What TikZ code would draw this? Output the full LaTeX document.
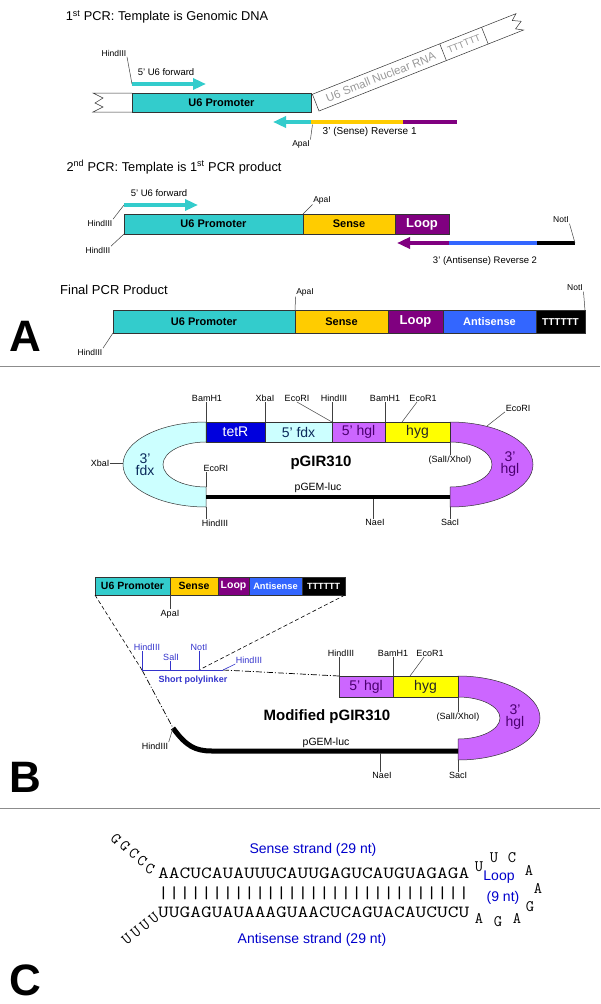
\documentclass[tikz,border=0pt]{standalone}
\usepackage{fontspec}
\setmainfont{Liberation Sans}
\usetikzlibrary{arrows.meta,calc}
\newcommand\myfs[1]{\fontsize{#1}{#1}\selectfont}
\definecolor{teal6}{HTML}{33CCCC}
\definecolor{gold}{HTML}{FFCC00}
\definecolor{loopc}{HTML}{800080}
\definecolor{antis}{HTML}{3366FF}
\definecolor{tetrc}{HTML}{0000DD}
\definecolor{lcyan}{HTML}{CCFFFF}
\definecolor{viol}{HTML}{CC66FF}
\definecolor{yel}{HTML}{FFFF00}
\definecolor{dpur}{HTML}{4B0070}
\definecolor{navy}{HTML}{0B2A5B}
\definecolor{plblue}{HTML}{3333CC}
\definecolor{cblue}{HTML}{0000CC}
\definecolor{edge}{HTML}{333333}
\begin{document}
\begin{tikzpicture}[x=1pt,y=-1pt,
  bx/.style={draw=edge, line width=0.5pt, anchor=north west, inner sep=0pt, outer sep=0pt},
  seg/.style={draw=edge, line width=0.5pt},
  bt/.style={font=\bfseries\myfs{11}},
  wt/.style={font=\myfs{14}},
  lb/.style={font=\myfs{8.5}, inner sep=0.5pt},
  lbb/.style={font=\myfs{9}, inner sep=0.5pt},
  tk/.style={draw=black!75, line width=0.5pt},
  big/.style={font=\bfseries\myfs{44}, inner sep=0pt},
  plab/.style={text=plblue, font=\myfs{9}, inner sep=0.5pt},
  farrow/.style={line width=4.5pt, -{Triangle[length=13pt,width=11pt]}},
  bar/.style={line width=4.5pt},
  mono/.style={font=\ttfamily\myfs{17}, inner sep=0pt, xscale=1.225},
  monos/.style={font=\ttfamily\myfs{16}, inner sep=0pt},
  cbl/.style={text=cblue, font=\myfs{14}, inner sep=0pt},
  sepline/.style={draw=black!45, line width=0.8pt},
  bbone/.style={line width=4.5pt},
]
\useasboundingbox (0,0) rectangle (600,1004);
\fill[white] (0,0) rectangle (600,1004);

% ================= PANEL A =================
\node[font=\myfs{12.8}] (t1) at (167,17) {1\textsuperscript{st} PCR: Template is Genomic DNA};
\draw[seg, fill=white] (132,93) -- (93,93) -- (103,98) -- (95,103) -- (103,107) -- (93,112) -- (132,112);
\node[bx, fill=teal6, minimum width=179pt, minimum height=19pt, bt] (p1u6) at (132,93) {U6 Promoter};
\begin{scope}[shift={(319,111)}, rotate=21.6]
 \draw[seg, fill=white] (0,0) -- (220,0) -- (213,-4) -- (221,-9) -- (213,-13) -- (219,-18) -- (0,-18) -- cycle;
 \draw[seg] (137,0) -- (137,-18);
 \draw[seg] (182,0) -- (182,-18);
 \node[rotate=21.6, text=black!40, font=\myfs{11.5}] (snrna) at (70,-9) {U6 Small Nuclear RNA};
 \node[rotate=21.6, text=black!40, font=\myfs{9.5}] (tt1) at (159.5,-9) {TTTTTT};
\end{scope}
\coordinate (f1s) at (132,84); \coordinate (f1e) at (206,84);
\draw[farrow, teal6] (f1s) -- (f1e);
\node[lb, font=\myfs{9.5}] (f1l) at (166,72) {5' U6 forward};
\node[lb] (h1) at (114,53) {HindIII};
\draw[tk] (h1.south east) -- (f1s);
\coordinate (r1t) at (273,122); \coordinate (r1a) at (311,122);
\coordinate (r1b) at (403,122); \coordinate (r1c) at (457,122);
\draw[bar, gold] (r1a) -- (r1b);
\draw[bar, loopc] (r1b) -- (r1c);
\draw[farrow, teal6] (r1a) -- (r1t);
\node[lb, font=\myfs{10}, anchor=west] (r1l) at (322,132) {3' (Sense) Reverse 1};
\node[lb] (a1) at (301,144) {ApaI};
\coordinate (a1t) at (312.5,124.5);
\draw[tk] (a1.north east) -- (a1t);

\node[font=\myfs{12.8}] (t2) at (174,167) {2\textsuperscript{nd} PCR: Template is 1\textsuperscript{st} PCR product};
\coordinate (f2s) at (124,205); \coordinate (f2e) at (198,205);
\draw[farrow, teal6] (f2s) -- (f2e);
\node[lb, font=\myfs{9.5}] (f2l) at (159,193) {5' U6 forward};
\node[bx, fill=teal6, minimum width=179pt, minimum height=20pt, bt] (p2u6) at (124,214) {U6 Promoter};
\node[bx, fill=gold, minimum width=92pt, minimum height=20pt, bt] (p2s) at (p2u6.north east) {Sense};
\node[bx, fill=loopc, minimum width=54pt, minimum height=20pt, text=white, font=\bfseries\myfs{13}] (p2l) at (p2s.north east) {Loop};
\node[lb] (h2a) at (100,223) {HindIII};
\draw[tk] (h2a.north east) -- (f2s);
\node[lb] (h2b) at (98,250) {HindIII};
\draw[tk] (h2b.north east) -- (p2u6.south west);
\node[lb] (a2) at (322,200) {ApaI};
\draw[tk] (a2.south west) -- (p2s.north west);
\coordinate (r2t) at (397,243); \coordinate (r2a) at (449,243);
\coordinate (r2b) at (537,243); \coordinate (r2c) at (575,243);
\draw[bar, antis] (r2a) -- (r2b);
\draw[bar, black] (r2b) -- (r2c);
\draw[farrow, loopc] (r2a) -- (r2t);
\node[lb, font=\myfs{9.5}] (r2l) at (485,261) {3' (Antisense) Reverse 2};
\node[lb] (n2) at (561,220) {NotI};
\draw[tk] (n2.south east) -- (r2c);

\node[font=\myfs{13}] (t3) at (114,290) {Final PCR Product};
\node[bx, fill=teal6, minimum width=182pt, minimum height=22.5pt, bt] (fu6) at (113,310.5) {U6 Promoter};
\node[bx, fill=gold, minimum width=93pt, minimum height=22.5pt, bt] (fs) at (fu6.north east) {Sense};
\node[bx, fill=loopc, minimum width=55pt, minimum height=22.5pt, text=white, font=\bfseries\myfs{13}] (fl) at (fs.north east) {Loop};
\node[bx, fill=antis, minimum width=93pt, minimum height=22.5pt, bt, text=white] (fa) at (fl.north east) {Antisense};
\node[bx, fill=black, minimum width=49pt, minimum height=22.5pt, text=white, font=\bfseries\myfs{10}] (ft) at (fa.north east) {TTTTTT};
\node[lb] (a3) at (305,292) {ApaI};
\draw[tk] (fs.north west) -- (a3.south west);
\node[lb] (n3) at (575,288) {NotI};
\draw[tk] (ft.north east) -- (n3.south east);
\node[lb] (h3) at (90,352) {HindIII};
\draw[tk] (fu6.south west) -- (h3.north east);
\node[big] (la) at (25,336) {A};

\draw[sepline] (0,366) -- (600,366);

% ================= PANEL B (top) =================
\draw[seg, fill=lcyan] (206,422) arc[start angle=270, end angle=90, x radius=83, y radius=42.5]
  -- (206,487) arc[start angle=90, end angle=270, x radius=43, y radius=22.5] -- cycle;
\draw[seg, fill=viol] (450,422) arc[start angle=-90, end angle=90, x radius=83, y radius=42.5]
  -- (450,487) arc[start angle=90, end angle=-90, x radius=42, y radius=22.5] -- cycle;
\node[bx, fill=tetrc, minimum width=59pt, minimum height=20pt, wt, text=white] (tetR) at (206,422) {tetR};
\node[bx, fill=lcyan, minimum width=67pt, minimum height=20pt, wt, text=navy] (fdx5) at (tetR.north east) {5' fdx};
\node[bx, fill=viol, minimum width=53pt, minimum height=20pt, wt, text=dpur] (hgl5) at (fdx5.north east) {5' hgl};
\node[bx, fill=yel, minimum width=65pt, minimum height=20pt, wt, text=black!85] (hyg1) at (hgl5.north east) {hyg};
\coordinate (bbL) at (206,497); \coordinate (bbR) at (450,497);
\draw[bbone] (bbL) -- (bbR);
\node[align=center, font=\myfs{14}, text=navy, inner sep=0pt] (fdx3) at (145,464.5) {3'\\[-2pt]fdx};
\node[align=center, font=\myfs{14}, text=dpur, inner sep=0pt] (hgl3) at (510,464.5) {3'\\[-2pt]hgl};
\node[font=\bfseries\myfs{15}] (pg) at (321,463) {pGIR310};
\node[font=\myfs{10.5}] (pgl) at (318,488) {pGEM-luc};

\node[lbb, anchor=south] (bam1) at (207,402) {BamH1};
\draw[tk] (tetR.north west) -- (tetR.north west |- bam1.south);
\node[lbb, anchor=south] (xba1) at (265,402) {XbaI};
\draw[tk] (fdx5.north west) -- (fdx5.north west |- xba1.south);
\node[lbb, anchor=south] (eco1) at (297,402) {EcoRI};
\draw[tk] (eco1.south) -- (fdx5.north east);
\node[lbb, anchor=south] (hind1) at (334,402) {HindIII};
\draw[tk] (hgl5.north west) -- (hgl5.north west |- hind1.south);
\node[lbb, anchor=south] (bam2) at (385,402) {BamH1};
\draw[tk] (hyg1.north west) -- (hyg1.north west |- bam2.south);
\node[lbb, anchor=south] (ecor1) at (423,402) {EcoR1};
\coordinate (ecor1t) at (402,422);
\draw[tk] ($(ecor1.south)+(-6,0)$) -- (ecor1t);
\node[lbb] (ecoR) at (518,408) {EcoRI};
\coordinate (ecoRt) at (487,426);
\draw[tk] (ecoR.south west) -- (ecoRt);
\node[lbb, anchor=east] (xbaL) at (110,463) {XbaI};
\coordinate (xbaLt) at (123,463);
\draw[tk] (xbaL.east) -- (xbaLt);
\node[lbb] (salx1) at (450,460) {(SalI/XhoI)};
\draw[tk] (hyg1.south east) -- (salx1.north);
\node[lbb, anchor=south west] (ecoin) at (203,472) {EcoRI};
\coordinate (ecoint) at (206,487);
\draw[tk] (ecoint) -- (ecoint |- ecoin.south);
\coordinate (hbt) at (206,507);
\node[lbb, anchor=north] (hindb) at (215,519) {HindIII};
\draw[tk] (hbt) -- (hbt |- hindb.north);
\coordinate (naet) at (373,499);
\node[lbb, anchor=north] (nae1) at (375,519) {NaeI};
\draw[tk] (naet) -- (naet |- nae1.north);
\coordinate (sact) at (450,507);
\node[lbb, anchor=north] (sac1) at (450,519) {SacI};
\draw[tk] (sact) -- (sac1.north);

% ================= PANEL B (bottom) =================
\node[bx, fill=teal6, minimum width=75pt, minimum height=18pt, font=\bfseries\myfs{10.5}] (cu6) at (95,577) {U6 Promoter};
\node[bx, fill=gold, minimum width=48pt, minimum height=18pt, font=\bfseries\myfs{10.5}] (cs) at (cu6.north east) {Sense};
\node[bx, fill=loopc, minimum width=31pt, minimum height=18pt, text=white, font=\bfseries\myfs{10.5}] (cl) at (cs.north east) {Loop};
\node[bx, fill=antis, minimum width=53pt, minimum height=18pt, text=white, font=\bfseries\myfs{9.3}] (ca) at (cl.north east) {Antisense};
\node[bx, fill=black, minimum width=43pt, minimum height=18pt, text=white, font=\bfseries\myfs{9}] (ct) at (ca.north east) {TTTTTT};
\node[lbb] (a4) at (170,614) {ApaI};
\draw[tk] (cs.south west) -- (a4.north -| cs.south west);

\coordinate (pl1) at (142,670); \coordinate (pl2) at (170,670);
\coordinate (pl3) at (199,670); \coordinate (pl4) at (223,670);
\coordinate (hbk) at (173,728);
\draw[black, line width=0.6pt, dash pattern=on 4pt off 2.5pt] (cu6.south west) -- (pl1);
\draw[black, line width=0.6pt, dash pattern=on 4pt off 2.5pt] (ct.south east) -- (pl3);
\draw[black, line width=0.7pt, dash pattern=on 6pt off 2pt on 1pt off 2pt] (pl1) -- (hbk);

\draw[seg, fill=viol] (458,676) arc[start angle=-90, end angle=90, x radius=82, y radius=42]
  -- (458,739) arc[start angle=90, end angle=-90, x radius=42, y radius=21] -- cycle;
\node[bx, fill=viol, minimum width=54pt, minimum height=21pt, wt, text=dpur] (mh2) at (339,676) {5' hgl};
\node[bx, fill=yel, minimum width=65pt, minimum height=21pt, wt, text=black!85] (my2) at (mh2.north east) {hyg};
\draw[black, line width=0.7pt, dash pattern=on 6pt off 2pt on 1pt off 2pt] (pl4) -- (mh2.north west);
\draw[plblue, line width=0.8pt] (pl1) -- (pl4);
\node[plab] (ph1) at (147,647) {HindIII};
\draw[plblue, line width=0.6pt] (pl1) -- (pl1 |- ph1.south);
\node[plab] (ps1) at (171,657) {SalI};
\draw[plblue, line width=0.6pt] (pl2) -- (pl2 |- ps1.south);
\node[plab] (pn1) at (199,647) {NotI};
\draw[plblue, line width=0.6pt] (pl3) -- (pl3 |- pn1.south);
\node[plab] (ph2) at (249,660) {HindIII};
\draw[plblue, line width=0.6pt] (pl4) -- (ph2.south west);
\node[plab, font=\bfseries\myfs{9}] (spl) at (193,680) {Short polylinker};

\coordinate (bbR2) at (458,751);
\draw[bbone, line width=5pt] (hbk) .. controls (186,746) and (195,751) .. (212,751) -- (bbR2);
\node[align=center, font=\myfs{14}, text=dpur, inner sep=0pt] (hgl3b) at (515,717.5) {3'\\[-2pt]hgl};
\node[font=\bfseries\myfs{15}] (mpg) at (327,717) {Modified pGIR310};
\node[font=\myfs{10.5}] (mpgl) at (326,743) {pGEM-luc};
\node[lbb, anchor=south] (mhind) at (341,657) {HindIII};
\draw[tk] (mh2.north west) -- (mh2.north west |- mhind.south);
\node[lbb, anchor=south] (mbam) at (393,657) {BamH1};
\draw[tk] (my2.north west) -- (my2.north west |- mbam.south);
\node[lbb, anchor=south] (meco) at (430,657) {EcoR1};
\coordinate (mecot) at (410,676);
\draw[tk] ($(meco.south)+(-6,0)$) -- (mecot);
\node[lbb] (msal) at (458,717) {(SalI/XhoI)};
\draw[tk] (my2.south east) -- (msal.north);
\node[lbb] (mhl) at (155,746) {HindIII};
\draw[tk] (mhl.north east) -- (hbk);
\coordinate (mnaet) at (380,753);
\node[lbb, anchor=north] (mnae) at (382,772) {NaeI};
\draw[tk] (mnaet) -- (mnaet |- mnae.north);
\coordinate (msact) at (458,760);
\node[lbb, anchor=north] (msac) at (458,772) {SacI};
\draw[tk] (msact) -- (msac.north);
\node[big] (lbB) at (25,777) {B};

\draw[sepline] (0,808) -- (600,808);

% ================= PANEL C =================
\node[mono, anchor=west] (ss) at (158,873) {AACUCAUAUUUCAUUGAGUCAUGUAGAGA};
\node[mono, anchor=west] (bars) at (158,893) {|||||||||||||||||||||||||||||};
\node[mono, anchor=west] (as) at (158,912) {UUGAGUAUAAAGUAACUCAGUACAUCUCU};
\node[monos, rotate=-25] (g5) at (150,869) {C};
\node[monos, rotate=-35] (g4) at (142,861) {C};
\node[monos, rotate=-40] (g3) at (134,853) {C};
\node[monos, rotate=-45] (g2) at (125,846) {G};
\node[monos, rotate=-45] (g1) at (116,839) {G};
\node[monos, rotate=40] (u4) at (154,918) {U};
\node[monos, rotate=40] (u3) at (145,925) {U};
\node[monos, rotate=40] (u2) at (136,932) {U};
\node[monos, rotate=40] (u1) at (127,939) {U};
\node[monos] (lp1) at (479,867) {U};
\node[monos] (lp2) at (494,858) {U};
\node[monos] (lp3) at (512,858) {C};
\node[monos] (lp4) at (529,870) {A};
\node[monos] (lp5) at (538,888) {A};
\node[monos] (lp6) at (530,907) {G};
\node[monos] (lp7) at (517,918) {A};
\node[monos] (lp8) at (498,922) {G};
\node[monos] (lp9) at (479,918) {A};
\node[cbl] (lpl) at (499,877) {Loop};
\node[cbl] (lpn) at (503,898) {(9 nt)};
\node[cbl] (sst) at (313,850) {Sense strand (29 nt)};
\node[cbl] (ast) at (312,940) {Antisense strand (29 nt)};
\node[big] (lbC) at (25,980) {C};
\end{tikzpicture}
\end{document}
